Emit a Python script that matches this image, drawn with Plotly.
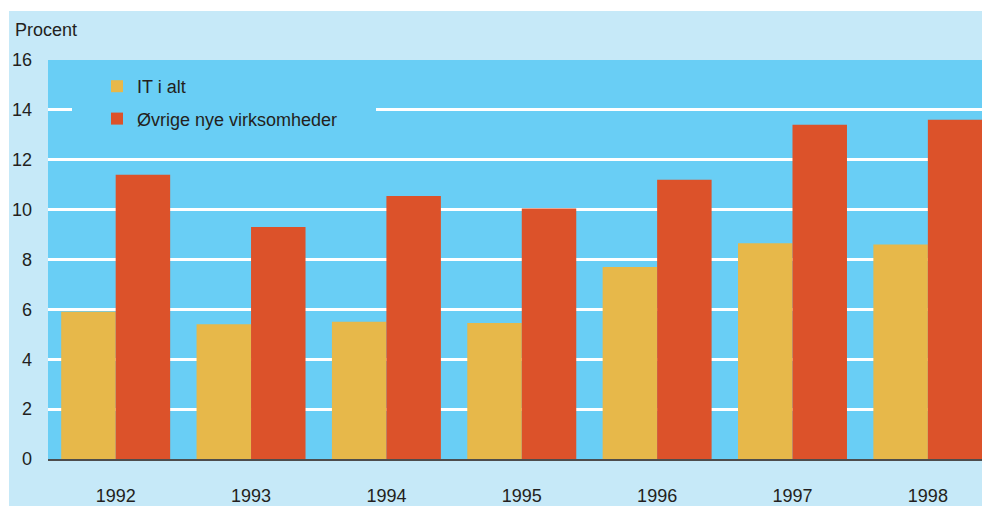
import plotly.graph_objects as go

years = ["1992", "1993", "1994", "1995", "1996", "1997", "1998"]
it_i_alt = [5.9, 5.4, 5.5, 5.45, 7.7, 8.65, 8.6]
ovrige = [11.4, 9.3, 10.55, 10.05, 11.2, 13.4, 13.6]
y_ticks = [0, 2, 4, 6, 8, 10, 12, 14, 16]

OUTER_BG = "#c6e9f8"
PLOT_BG = "#69cef5"
YELLOW = "#e7b84a"
RED = "#dc522a"
TXT = "#231f20"
FONT = "Liberation Sans, Arial, sans-serif"

W, H = 982, 506
ML, MR, MT, MB = 48, 0, 60, 47
pw, ph = W - ML - MR, H - MT - MB


def px_x(x):
    return (x - ML) / pw


def px_y(y):
    return (H - MB - y) / ph


fig = go.Figure()
fig.add_trace(go.Bar(x=years, y=it_i_alt, name="IT i alt",
                     marker=dict(color=YELLOW, line=dict(width=0)), legendgroup="a"))
fig.add_trace(go.Bar(x=years, y=ovrige, name="Øvrige nye virksomheder",
                     marker=dict(color=RED, line=dict(width=0)), legendgroup="b"))

fig.update_layout(
    width=W, height=H,
    margin=dict(l=ML, r=MR, t=MT, b=MB, pad=0),
    paper_bgcolor="white",
    plot_bgcolor=PLOT_BG,
    barmode="group",
    bargap=0.195,
    bargroupgap=0,
    font=dict(family=FONT, size=18, color=TXT),
    showlegend=True,
    legend=dict(
        x=px_x(97), xanchor="left",
        y=px_y(68), yanchor="top",
        bgcolor="rgba(0,0,0,0)", borderwidth=0,
        font=dict(family=FONT, size=18, color=TXT),
        traceorder="grouped", tracegroupgap=6,
    ),
    shapes=[
        dict(type="rect", xref="paper", yref="paper", layer="below",
             x0=px_x(9), x1=1.0, y0=px_y(H), y1=px_y(11),
             fillcolor=OUTER_BG, line=dict(width=0)),
        dict(type="rect", xref="paper", yref="paper", layer="below",
             x0=0, x1=1, y0=0, y1=1, fillcolor=PLOT_BG, line=dict(width=0)),
        dict(type="rect", xref="paper", yref="paper", layer="above",
             x0=px_x(72), x1=px_x(376), y0=px_y(135), y1=px_y(72),
             fillcolor=PLOT_BG, line=dict(width=0)),
    ],
    annotations=[
        dict(text="Procent", xref="paper", yref="paper", x=px_x(13), xanchor="left",
             y=px_y(30), yanchor="middle", showarrow=False,
             font=dict(family=FONT, size=18, color=TXT)),
    ],
)

fig.update_xaxes(
    type="category", range=[-0.5, 6.4], showgrid=False,
    showline=True, linecolor="#4d4d4d", linewidth=1.5,
    ticks="", ticklabelstandoff=20,
    tickfont=dict(family=FONT, size=18, color=TXT),
)
fig.update_yaxes(
    range=[0, 16], tickvals=y_ticks, showgrid=True, gridcolor="white", gridwidth=2.5,
    zeroline=False, showline=False, ticks="", ticklabelstandoff=15,
    tickfont=dict(family=FONT, size=18, color=TXT),
)

fig.write_html(
    "out.html",
    config={"displayModeBar": False},
    post_script="document.body.style.margin='0';document.body.style.overflow='hidden';",
)
